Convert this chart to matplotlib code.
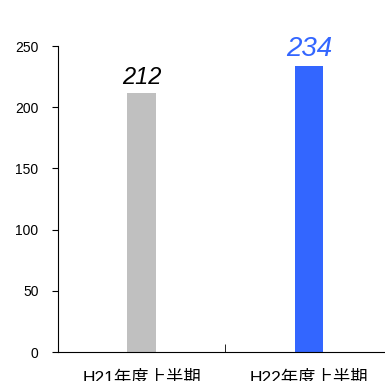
import matplotlib.pyplot as plt

categories = ['H21年度上半期', 'H22年度上半期']
values = [212, 234]
colors = ['#C0C0C0', '#3366FF']
label_colors = ['#000000', '#3366FF']
label_sizes = [17, 20]

plt.rcParams['font.family'] = ['Liberation Sans', 'Noto Sans CJK JP', 'DejaVu Sans']

fig = plt.figure(figsize=(3.85, 3.81), dpi=100)
ax = fig.add_axes([0.1506, 0.0761, 0.869, 0.803])

x = list(range(len(categories)))
ax.bar(x, values, width=0.17, color=colors)

for i, v in enumerate(values):
    ax.text(x[i], v + 3, str(v), ha='center', va='bottom', style='italic',
            fontsize=label_sizes[i], color=label_colors[i])

ax.set_xlim(-0.5, 1.5)
ax.set_ylim(0, 250)
ax.set_yticks([0, 50, 100, 150, 200, 250])
ax.set_xticks(x)
ax.set_xticklabels(categories, fontsize=12.5)
ax.set_xticks([0.5], minor=True)
ax.tick_params(axis='x', which='major', length=0, pad=13)
ax.tick_params(axis='x', which='minor', direction='in', length=6)
ax.tick_params(axis='y', length=4, labelsize=10, pad=10)

ax.spines['top'].set_visible(False)
ax.spines['right'].set_visible(False)

fig.savefig('out.png', dpi=100)
